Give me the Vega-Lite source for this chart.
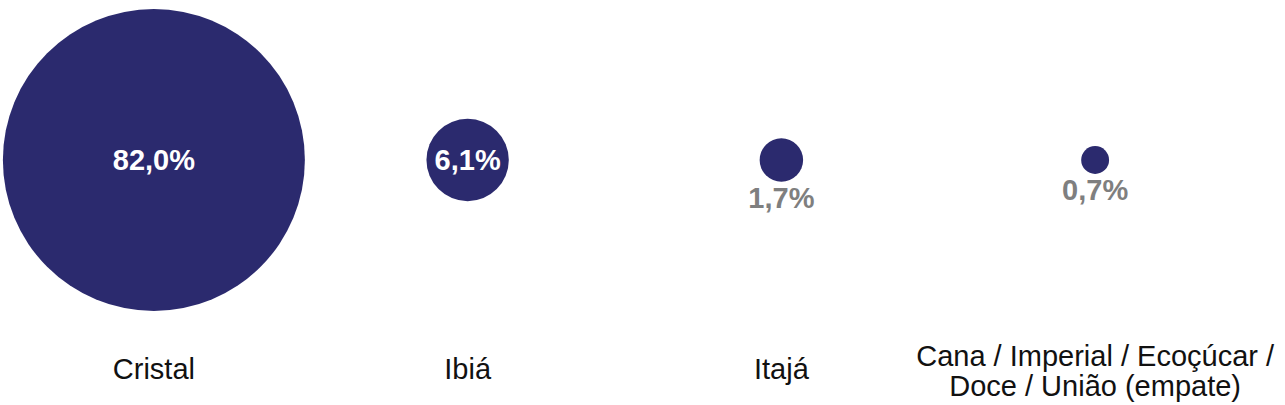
{
  "$schema": "https://vega.github.io/schema/vega-lite/v6.json",
  "width": 1255,
  "height": 405,
  "padding": {"left": -3, "top": 0, "right": 33, "bottom": 0},
  "background": "white",
  "config": {"view": {"stroke": null}, "font": "Liberation Sans"},
  "data": {
    "values": [
      {"cat": "Cristal", "label": "Cristal", "value": 82.0, "pct": "82,0%"},
      {"cat": "Ibiá", "label": "Ibiá", "value": 6.1, "pct": "6,1%"},
      {"cat": "Itajá", "label": "Itajá", "value": 1.7, "pct": "1,7%"},
      {"cat": "Cana / Imperial / Ecoçúcar / Doce / União (empate)", "label": "Cana / Imperial / Ecoçúcar /\nDoce / União (empate)", "value": 0.7, "pct": "0,7%"}
    ]
  },
  "encoding": {
    "x": {"field": "cat", "type": "nominal", "sort": null, "scale": {"type": "point", "padding": 0.5}, "axis": null}
  },
  "layer": [
    {
      "mark": {"type": "circle", "opacity": 1, "color": "#2B2A6E", "strokeWidth": 0},
      "encoding": {
        "y": {"datum": 160, "type": "quantitative", "scale": {"domain": [0, 405], "range": [0, 405]}, "axis": null},
        "size": {"field": "value", "type": "quantitative", "scale": {"type": "linear", "domain": [0, 82], "range": [0, 91204], "nice": false, "zero": true}, "legend": null}
      }
    },
    {
      "transform": [{"filter": "datum.value >= 5"}],
      "mark": {"type": "text", "color": "white", "fontWeight": "bold", "fontSize": 29, "baseline": "middle", "align": "center"},
      "encoding": {
        "y": {"datum": 161, "type": "quantitative", "scale": {"domain": [0, 405], "range": [0, 405]}, "axis": null},
        "text": {"field": "pct", "type": "nominal"}
      }
    },
    {
      "transform": [{"filter": "datum.value < 5"}],
      "mark": {"type": "text", "color": "#7F7F7F", "fontWeight": "bold", "fontSize": 29, "baseline": "middle", "align": "center"},
      "encoding": {
        "y": {"field": "value", "type": "quantitative", "scale": {"type": "sqrt", "domain": [0, 82], "range": [177, 328], "zero": true, "nice": false}, "axis": null},
        "text": {"field": "pct", "type": "nominal"}
      }
    },
    {
      "transform": [{"filter": "indexof(datum.label, '\\n') < 0"}],
      "mark": {"type": "text", "color": "#111111", "fontSize": 29, "baseline": "middle", "align": "center"},
      "encoding": {
        "y": {"datum": 370, "type": "quantitative", "scale": {"domain": [0, 405], "range": [0, 405]}, "axis": null},
        "text": {"field": "label", "type": "nominal"}
      }
    },
    {
      "transform": [{"filter": "indexof(datum.label, '\\n') >= 0"}],
      "mark": {"type": "text", "color": "#111111", "fontSize": 29, "baseline": "middle", "align": "center", "lineBreak": "\n", "lineHeight": 30},
      "encoding": {
        "y": {"datum": 357, "type": "quantitative", "scale": {"domain": [0, 405], "range": [0, 405]}, "axis": null},
        "text": {"field": "label", "type": "nominal"}
      }
    }
  ],
  "resolve": {"scale": {"y": "independent"}}
}
